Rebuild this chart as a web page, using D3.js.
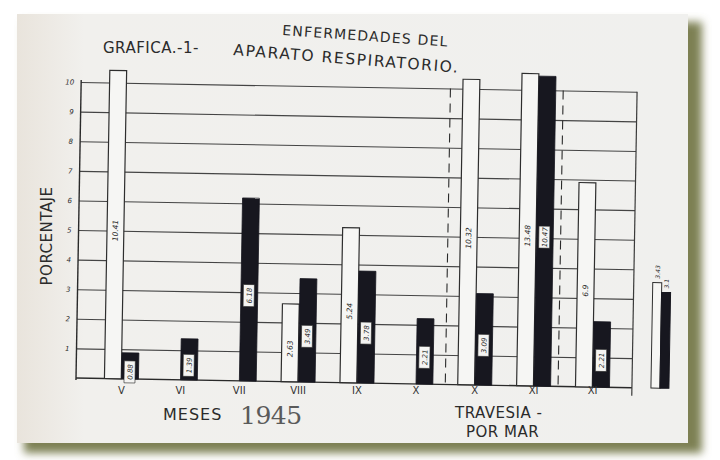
<!DOCTYPE html>
<html>
<head>
<meta charset="utf-8">
<script src="https://cdn.jsdelivr.net/npm/d3@7"></script>
<style>
  body { margin: 0; background: #fff; }
  svg text { font-family: "DejaVu Sans", sans-serif; fill: #2b2b2b; }
</style>
</head>
<body>
<svg id="chart" width="720" height="460"></svg>
<script>
// month labels along the bottom (the last three belong to the "travesia por mar")
const months = ["V", "VI", "VII", "VIII", "IX", "X", "X", "XI", "XI"];
// white (hollow) bars, percentage; null = no bar
const whiteVals = [10.41, null, null, 2.63, 5.24, null, 10.32, 13.48, 6.9];
// black bars, percentage
const blackVals = [0.88, 1.39, 6.18, 3.49, 3.78, 2.21, 3.09, 10.47, 2.21];
// small pair drawn outside the frame on the right
const extraVals = [3.43, 3.1];
const yTicks = [1, 2, 3, 4, 5, 6, 7, 8, 9, 10];
const barCap = 10.55; // bars taller than this are cut off at the top

let svg = d3.select("#chart");

// paper + shadow
let defs = svg.append("defs");
defs.append("filter").attr("id", "blur")
	.append("feGaussianBlur").attr("stdDeviation", 4);
let grad = defs.append("linearGradient").attr("id", "paper");
grad.append("stop").attr("offset", "0%").attr("stop-color", "#e9e4dc");
grad.append("stop").attr("offset", "10%").attr("stop-color", "#f1f0ed");
grad.append("stop").attr("offset", "100%").attr("stop-color", "#f0f0ee");

svg.append("rect").attr("x", 24).attr("y", 22).attr("width", 678).attr("height", 431)
	.attr("fill", "#7d8052").attr("filter", "url(#blur)");
svg.append("rect").attr("x", 17).attr("y", 14).attr("width", 671).attr("height", 429)
	.attr("fill", "url(#paper)");

// scales
let x = d3.scaleBand()
	.domain(d3.range(months.length))
	.range([92, 622]);
let sub = d3.scaleBand()
	.domain(["w", "b"])
	.range([-17, 17])
	.paddingInner(0.02);
let y = d3.scaleLinear()
	.domain([0, 10])
	.range([378, 82]);

let plot = svg.append("g").attr("transform", "rotate(1, 76, 378)");

// grid lines (left axis with long ticks)
let yAxis = plot.append("g")
	.attr("transform", "translate(76,0)")
	.call(d3.axisLeft(y).tickValues(yTicks).tickSize(-556).tickPadding(7));
yAxis.select(".domain").remove();
yAxis.selectAll("line").attr("stroke", "#444").attr("stroke-width", 1.1);
yAxis.selectAll("text").style("font-size", "7px").style("font-style", "italic");

// baseline, left axis and right frame
plot.append("line").attr("x1", 76).attr("x2", 632).attr("y1", y(0)).attr("y2", y(0))
	.attr("stroke", "#2a2a2a").attr("stroke-width", 1.4);
plot.append("line").attr("x1", 76).attr("x2", 76).attr("y1", y(10) - 2).attr("y2", y(0) + 2)
	.attr("stroke", "#2a2a2a").attr("stroke-width", 1.4);
plot.append("line").attr("x1", 632).attr("x2", 632).attr("y1", y(10)).attr("y2", y(0) + 8)
	.attr("stroke", "#3a3a3a").attr("stroke-width", 1.2);

// dashed separators of the sea-voyage months
[6, 8].forEach(i => {
	let xx = x(i) - (i == 8 ? 5 : 0);
	plot.append("line").attr("x1", xx).attr("x2", xx).attr("y1", y(10)).attr("y2", y(0))
		.attr("stroke", "#2a2a2a").attr("stroke-width", 1.1).attr("stroke-dasharray", "9,6");
});

// bars
let groups = plot.selectAll(".month")
	.data(months.map((m, i) => ({i: i, w: whiteVals[i], b: blackVals[i]})))
	.join("g")
	.attr("class", "month")
	.attr("transform", d => "translate(" + (x(d.i) + x.bandwidth() / 2) + ",0)");

let hBar = v => y(0) - y(Math.min(v, barCap));

groups.filter(d => d.w != null).append("rect")
	.attr("x", sub("w")).attr("width", sub.bandwidth())
	.attr("y", d => y(Math.min(d.w, barCap))).attr("height", d => hBar(d.w))
	.attr("fill", "#f6f6f4").attr("stroke", "#2e2e2e").attr("stroke-width", 1.2);

groups.filter(d => d.w != null).append("text")
	.attr("transform", d => "translate(" + (sub("w") + sub.bandwidth() / 2 + 2.5) + "," + (y(Math.min(d.w, barCap) / 2) + 6) + ") rotate(-90)")
	.attr("text-anchor", "middle")
	.style("font-size", "7.5px").style("font-style", "italic")
	.text(d => d.w);

groups.append("rect")
	.attr("x", sub("b")).attr("width", sub.bandwidth())
	.attr("y", d => y(Math.min(d.b, barCap))).attr("height", d => hBar(d.b))
	.attr("fill", "#17171f").attr("stroke", "#17171f").attr("stroke-width", 0.8);

let bLab = groups.append("g")
	.attr("transform", d => "translate(" + (sub("b") + sub.bandwidth() / 2) + "," + (y(Math.min(d.b, barCap) / 2) + 6) + ") rotate(-90)");
bLab.append("rect").attr("x", -11).attr("y", -6).attr("width", 22).attr("height", 11)
	.attr("fill", "#f4f4f2").attr("stroke", "#222").attr("stroke-width", 0.6);
bLab.append("text").attr("y", 2.5).attr("text-anchor", "middle")
	.style("font-size", "7px").style("font-style", "italic")
	.text(d => d.b);

// extra pair outside the frame
let ex = d3.scaleBand().domain(["w", "b"]).range([651, 669]);
plot.selectAll(".extra")
	.data(extraVals)
	.join("rect")
	.attr("class", "extra")
	.attr("x", (d, i) => ex(i ? "b" : "w")).attr("width", ex.bandwidth())
	.attr("y", d => y(d) - 4).attr("height", d => y(0) - y(d) + 4)
	.attr("fill", (d, i) => i ? "#17171f" : "#f6f6f4")
	.attr("stroke", (d, i) => i ? "#17171f" : "#2e2e2e").attr("stroke-width", 1);
plot.selectAll(".extra-lab")
	.data(extraVals)
	.join("text")
	.attr("class", "extra-lab")
	.attr("transform", (d, i) => "translate(" + (ex(i ? "b" : "w") + 7) + "," + (y(d) - 8) + ") rotate(-90)")
	.style("font-size", "6px").style("font-style", "italic")
	.text(d => d);

// month labels
let xAxis = svg.append("g")
	.attr("transform", "translate(0,382)")
	.call(d3.axisBottom(x).tickSize(0).tickPadding(5).tickFormat(i => months[i]));
xAxis.select(".domain").remove();
xAxis.selectAll("text").style("font-size", "10px").style("fill", "#333");

// titles
svg.append("text").attr("x", 103).attr("y", 53)
	.style("font-size", "15px").style("letter-spacing", "0.5px").text("GRAFICA.-1-");
svg.append("text").attr("transform", "translate(282,35) rotate(4)")
	.style("font-size", "14px").style("letter-spacing", "1.2px").text("ENFERMEDADES DEL");
svg.append("text").attr("transform", "translate(233,55) rotate(4.5)")
	.style("font-size", "15.5px").style("letter-spacing", "1.6px").text("APARATO RESPIRATORIO.");

svg.append("text").attr("transform", "translate(52,236) rotate(-90)")
	.attr("text-anchor", "middle")
	.style("font-size", "15px").style("letter-spacing", "0.5px").text("PORCENTAJE");

svg.append("text").attr("x", 163).attr("y", 420)
	.style("font-size", "16px").style("letter-spacing", "1px").text("MESES");
svg.append("text").attr("x", 240).attr("y", 424)
	.style("font-family", "'DejaVu Serif', serif").style("font-size", "25px")
	.style("fill", "#5a5a5a").style("letter-spacing", "-0.5px").text("1945");
svg.append("text").attr("x", 455).attr("y", 418)
	.style("font-size", "15px").style("letter-spacing", "0.5px").text("TRAVESIA -");
svg.append("text").attr("x", 466).attr("y", 437)
	.style("font-size", "15px").style("letter-spacing", "0.5px").text("POR MAR");
</script>
</body>
</html>
